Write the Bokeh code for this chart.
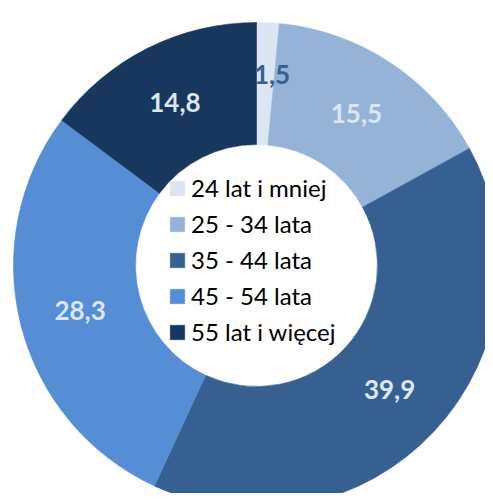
import math
from bokeh.plotting import figure
from bokeh.models import ColumnDataSource, Range1d, Legend, LegendItem
from bokeh.core.properties import value
from bokeh.embed import file_html
from bokeh.resources import INLINE

categories = ["24 lat i mniej", "25 - 34 lata", "35 - 44 lata", "45 - 54 lata", "55 lat i więcej"]
values = [1.5, 15.5, 39.9, 28.3, 14.8]
labels = ["1,5", "15,5", "39,9", "28,3", "14,8"]
colors = ["#dce6f2", "#95b3d7", "#376092", "#558ed5", "#17375e"]
label_colors = ["#376092", "#dce6f2", "#dce6f2", "#dce6f2", "#dce6f2"]

W, H = 485, 493
cx, cy = 256, H - 265
R_OUT, R_IN = 243, 121
R_LAB = 182

total = sum(values)
starts, ends, lx, ly = [], [], [], []
cum = 0.0
for v in values:
    a0 = math.pi / 2 - 2 * math.pi * cum / total
    a1 = math.pi / 2 - 2 * math.pi * (cum + v) / total
    starts.append(a0)
    ends.append(a1)
    mid = (a0 + a1) / 2
    lx.append(cx + R_LAB * math.cos(mid))
    ly.append(cy + R_LAB * math.sin(mid))
    cum += v

xo = [7, 0, 0, 0, 0]
yo = [-9, 0, 0, 0, 0]

p = figure(width=W, height=H, output_backend="svg", toolbar_location=None,
           x_range=Range1d(0, W), y_range=Range1d(0, H), min_border=0)
p.axis.visible = False
p.grid.visible = False
p.outline_line_color = None
p.background_fill_color = "white"

renderers = []
for i in range(len(values)):
    r = p.annular_wedge(x=cx, y=cy, inner_radius=R_IN, outer_radius=R_OUT,
                        start_angle=starts[i], end_angle=ends[i], direction="clock",
                        fill_color=colors[i], line_color=colors[i], line_width=0.6)
    renderers.append(r)

src = ColumnDataSource(dict(x=lx, y=ly, t=labels, c=label_colors, xo=xo, yo=yo))
p.text(x="x", y="y", text="t", text_color="c", x_offset="xo", y_offset="yo",
       text_align="center", text_baseline="middle",
       text_font=value("Lato"), text_font_style="bold", text_font_size="26px", source=src)

legend = Legend(items=[LegendItem(label=categories[i], renderers=[renderers[i]]) for i in range(len(values))],
                location=(168, 147), orientation="vertical",
                glyph_width=18, glyph_height=18, label_height=28, spacing=7,
                label_standoff=5, padding=0, margin=0,
                border_line_color=None, background_fill_alpha=0,
                label_text_font="Lato", label_text_font_size="24px", label_text_color="#000000")
p.add_layout(legend, "center")

open("out.html", "w").write(file_html(p, INLINE))
